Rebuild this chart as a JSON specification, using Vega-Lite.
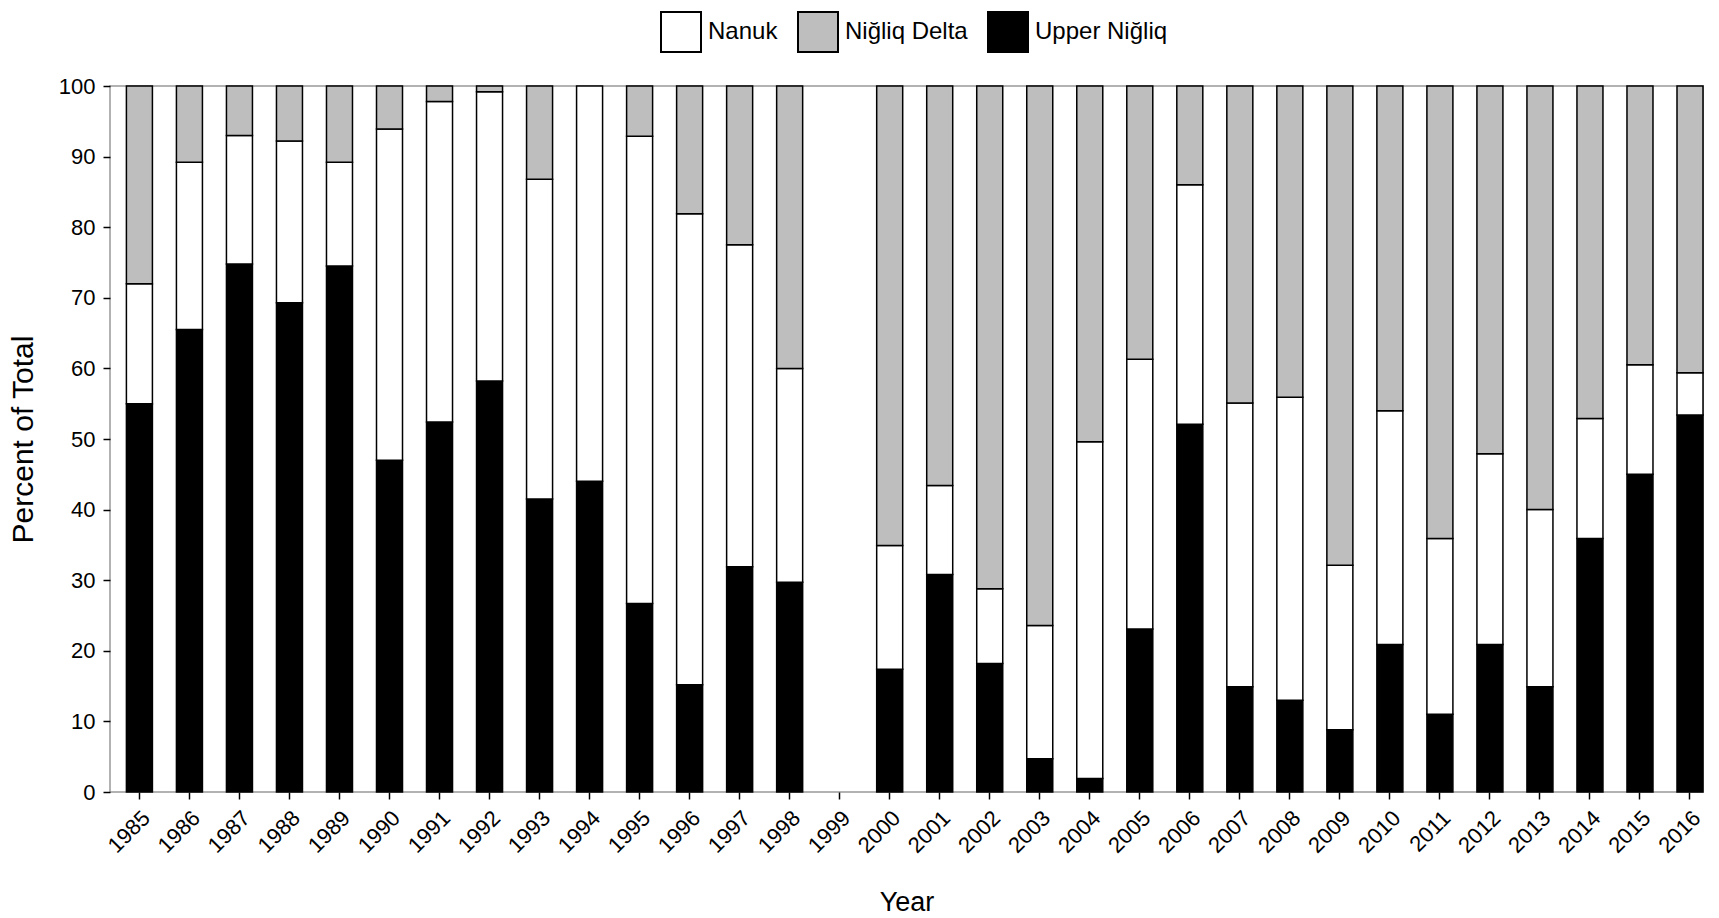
{
  "$schema": "https://vega.github.io/schema/vega-lite/v6.json",
  "autosize": {"type": "none"},
  "padding": {"left": 110, "top": 86, "right": 16, "bottom": 126},
  "width": 1593,
  "height": 706,
  "background": "white",
  "config": {
    "view": {"stroke": "#999999", "strokeWidth": 1.5},
    "font": "Liberation Sans"
  },
  "data": {
    "values": [
      {"year": "1985", "site": "Upper Niğliq", "percent": 55.0},
      {"year": "1985", "site": "Nanuk", "percent": 17.0},
      {"year": "1985", "site": "Niğliq Delta", "percent": 28.0},
      {"year": "1986", "site": "Upper Niğliq", "percent": 65.5},
      {"year": "1986", "site": "Nanuk", "percent": 23.7},
      {"year": "1986", "site": "Niğliq Delta", "percent": 10.8},
      {"year": "1987", "site": "Upper Niğliq", "percent": 74.8},
      {"year": "1987", "site": "Nanuk", "percent": 18.2},
      {"year": "1987", "site": "Niğliq Delta", "percent": 7.0},
      {"year": "1988", "site": "Upper Niğliq", "percent": 69.3},
      {"year": "1988", "site": "Nanuk", "percent": 22.9},
      {"year": "1988", "site": "Niğliq Delta", "percent": 7.8},
      {"year": "1989", "site": "Upper Niğliq", "percent": 74.5},
      {"year": "1989", "site": "Nanuk", "percent": 14.7},
      {"year": "1989", "site": "Niğliq Delta", "percent": 10.8},
      {"year": "1990", "site": "Upper Niğliq", "percent": 47.0},
      {"year": "1990", "site": "Nanuk", "percent": 46.9},
      {"year": "1990", "site": "Niğliq Delta", "percent": 6.1},
      {"year": "1991", "site": "Upper Niğliq", "percent": 52.4},
      {"year": "1991", "site": "Nanuk", "percent": 45.4},
      {"year": "1991", "site": "Niğliq Delta", "percent": 2.2},
      {"year": "1992", "site": "Upper Niğliq", "percent": 58.2},
      {"year": "1992", "site": "Nanuk", "percent": 41.0},
      {"year": "1992", "site": "Niğliq Delta", "percent": 0.8},
      {"year": "1993", "site": "Upper Niğliq", "percent": 41.5},
      {"year": "1993", "site": "Nanuk", "percent": 45.3},
      {"year": "1993", "site": "Niğliq Delta", "percent": 13.2},
      {"year": "1994", "site": "Upper Niğliq", "percent": 44.0},
      {"year": "1994", "site": "Nanuk", "percent": 56.0},
      {"year": "1995", "site": "Upper Niğliq", "percent": 26.7},
      {"year": "1995", "site": "Nanuk", "percent": 66.2},
      {"year": "1995", "site": "Niğliq Delta", "percent": 7.1},
      {"year": "1996", "site": "Upper Niğliq", "percent": 15.2},
      {"year": "1996", "site": "Nanuk", "percent": 66.7},
      {"year": "1996", "site": "Niğliq Delta", "percent": 18.1},
      {"year": "1997", "site": "Upper Niğliq", "percent": 31.9},
      {"year": "1997", "site": "Nanuk", "percent": 45.6},
      {"year": "1997", "site": "Niğliq Delta", "percent": 22.5},
      {"year": "1998", "site": "Upper Niğliq", "percent": 29.7},
      {"year": "1998", "site": "Nanuk", "percent": 30.3},
      {"year": "1998", "site": "Niğliq Delta", "percent": 40.0},
      {"year": "2000", "site": "Upper Niğliq", "percent": 17.4},
      {"year": "2000", "site": "Nanuk", "percent": 17.5},
      {"year": "2000", "site": "Niğliq Delta", "percent": 65.1},
      {"year": "2001", "site": "Upper Niğliq", "percent": 30.8},
      {"year": "2001", "site": "Nanuk", "percent": 12.6},
      {"year": "2001", "site": "Niğliq Delta", "percent": 56.6},
      {"year": "2002", "site": "Upper Niğliq", "percent": 18.2},
      {"year": "2002", "site": "Nanuk", "percent": 10.6},
      {"year": "2002", "site": "Niğliq Delta", "percent": 71.2},
      {"year": "2003", "site": "Upper Niğliq", "percent": 4.7},
      {"year": "2003", "site": "Nanuk", "percent": 18.9},
      {"year": "2003", "site": "Niğliq Delta", "percent": 76.4},
      {"year": "2004", "site": "Upper Niğliq", "percent": 1.9},
      {"year": "2004", "site": "Nanuk", "percent": 47.7},
      {"year": "2004", "site": "Niğliq Delta", "percent": 50.4},
      {"year": "2005", "site": "Upper Niğliq", "percent": 23.1},
      {"year": "2005", "site": "Nanuk", "percent": 38.2},
      {"year": "2005", "site": "Niğliq Delta", "percent": 38.7},
      {"year": "2006", "site": "Upper Niğliq", "percent": 52.1},
      {"year": "2006", "site": "Nanuk", "percent": 33.9},
      {"year": "2006", "site": "Niğliq Delta", "percent": 14.0},
      {"year": "2007", "site": "Upper Niğliq", "percent": 14.9},
      {"year": "2007", "site": "Nanuk", "percent": 40.2},
      {"year": "2007", "site": "Niğliq Delta", "percent": 44.9},
      {"year": "2008", "site": "Upper Niğliq", "percent": 13.0},
      {"year": "2008", "site": "Nanuk", "percent": 42.9},
      {"year": "2008", "site": "Niğliq Delta", "percent": 44.1},
      {"year": "2009", "site": "Upper Niğliq", "percent": 8.8},
      {"year": "2009", "site": "Nanuk", "percent": 23.3},
      {"year": "2009", "site": "Niğliq Delta", "percent": 67.9},
      {"year": "2010", "site": "Upper Niğliq", "percent": 20.9},
      {"year": "2010", "site": "Nanuk", "percent": 33.1},
      {"year": "2010", "site": "Niğliq Delta", "percent": 46.0},
      {"year": "2011", "site": "Upper Niğliq", "percent": 11.0},
      {"year": "2011", "site": "Nanuk", "percent": 24.9},
      {"year": "2011", "site": "Niğliq Delta", "percent": 64.1},
      {"year": "2012", "site": "Upper Niğliq", "percent": 20.9},
      {"year": "2012", "site": "Nanuk", "percent": 27.0},
      {"year": "2012", "site": "Niğliq Delta", "percent": 52.1},
      {"year": "2013", "site": "Upper Niğliq", "percent": 14.9},
      {"year": "2013", "site": "Nanuk", "percent": 25.1},
      {"year": "2013", "site": "Niğliq Delta", "percent": 60.0},
      {"year": "2014", "site": "Upper Niğliq", "percent": 35.9},
      {"year": "2014", "site": "Nanuk", "percent": 17.0},
      {"year": "2014", "site": "Niğliq Delta", "percent": 47.1},
      {"year": "2015", "site": "Upper Niğliq", "percent": 45.0},
      {"year": "2015", "site": "Nanuk", "percent": 15.5},
      {"year": "2015", "site": "Niğliq Delta", "percent": 39.5},
      {"year": "2016", "site": "Upper Niğliq", "percent": 53.4},
      {"year": "2016", "site": "Nanuk", "percent": 6.0},
      {"year": "2016", "site": "Niğliq Delta", "percent": 40.6}
    ]
  },
  "transform": [
    {"calculate": "indexof(['Upper Niğliq', 'Nanuk', 'Niğliq Delta'], datum.site)", "as": "stackOrder"}
  ],
  "mark": {"type": "bar", "stroke": "black", "strokeWidth": 1.5},
  "encoding": {
    "x": {
      "field": "year",
      "type": "ordinal",
      "scale": {
        "domain": ["1985","1986","1987","1988","1989","1990","1991","1992","1993","1994","1995","1996","1997","1998","1999","2000","2001","2002","2003","2004","2005","2006","2007","2008","2009","2010","2011","2012","2013","2014","2015","2016"],
        "paddingInner": 0.48,
        "paddingOuter": 0.164,
        "align": 1
      },
      "axis": {
        "title": "Year",
        "titleFontSize": 27,
        "titleFontWeight": "normal",
        "titleColor": "black",
        "titlePadding": 33,
        "labelAngle": -45,
        "labelAlign": "right",
        "labelBaseline": "top",
        "labelFontSize": 22,
        "labelColor": "black",
        "labelPadding": 8,
        "tickSize": 7,
        "tickColor": "black",
        "tickWidth": 1.5,
        "domain": false,
        "grid": false
      }
    },
    "y": {
      "field": "percent",
      "type": "quantitative",
      "stack": "zero",
      "scale": {"domain": [0, 100], "nice": false},
      "axis": {
        "title": "Percent of Total",
        "titleFontSize": 30,
        "titleFontWeight": "normal",
        "titleColor": "black",
        "titlePadding": 20,
        "values": [0, 10, 20, 30, 40, 50, 60, 70, 80, 90, 100],
        "labelFontSize": 22,
        "labelColor": "black",
        "labelPadding": 8,
        "tickSize": 7,
        "tickColor": "black",
        "tickWidth": 1.5,
        "domain": false,
        "grid": false
      }
    },
    "color": {
      "field": "site",
      "type": "nominal",
      "scale": {
        "domain": ["Nanuk", "Niğliq Delta", "Upper Niğliq"],
        "range": ["#FFFFFF", "#BEBEBE", "#000000"]
      },
      "legend": {
        "orient": "none",
        "legendX": 550,
        "legendY": -75,
        "direction": "horizontal",
        "title": null,
        "padding": 0,
        "symbolType": "square",
        "symbolSize": 1600,
        "symbolStrokeColor": "black",
        "symbolStrokeWidth": 2,
        "symbolOpacity": 1,
        "labelFontSize": 24,
        "labelColor": "black",
        "labelOffset": 6,
        "columnPadding": 16
      }
    },
    "order": {"field": "stackOrder", "type": "quantitative", "sort": "ascending"}
  }
}
